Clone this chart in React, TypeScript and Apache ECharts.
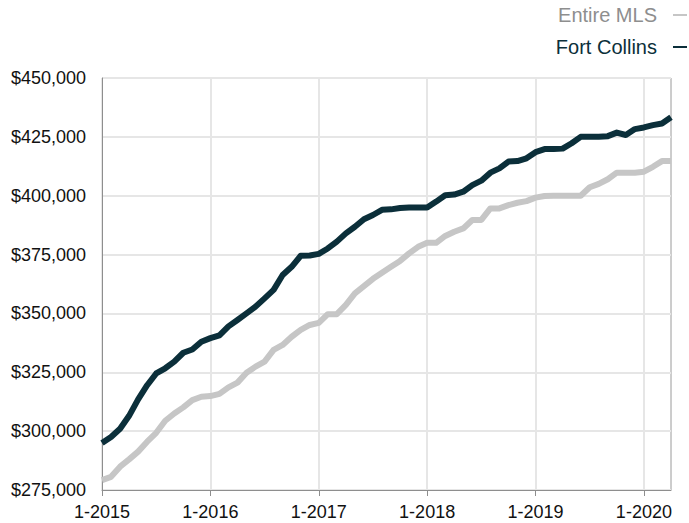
import React, { useEffect, useRef } from "react";
import * as echarts from "echarts";

const startYear = 2015;
const monthCount = 64;
const categories: string[] = Array.from({ length: monthCount }, (_, i) => `${(i % 12) + 1}-${startYear + Math.floor(i / 12)}`);

const seriesNames = ["Entire MLS", "Fort Collins"];

const entireMLS = [
  279200, 280600, 284900, 288000, 291300, 295500, 299300, 304400, 307500, 310100, 313200, 314600,
  314900, 315800, 318600, 320600, 324800, 327400, 329500, 334500, 336600, 340100, 343000, 345100,
  346000, 349700, 349700, 353600, 358500, 361600, 364700, 367300, 369800, 372300, 375500, 378300,
  380000, 380000, 382900, 384700, 386100, 389700, 389700, 394600, 394600, 396000, 397000, 397700,
  399200, 399900, 400000, 400000, 400000, 400000, 403600, 405000, 407000, 409800, 409800, 409800,
  410200, 412300, 414700, 414700,
];

const fortCollins = [
  295000, 297500, 301000, 306500, 313500, 319500, 324500, 326700, 329500, 333300, 334700, 338000,
  339500, 340700, 344500, 347200, 350000, 352900, 356400, 360000, 366300, 369800, 374500, 374600,
  375300, 377600, 380500, 384000, 386800, 390000, 391800, 394000, 394200, 394800, 395000, 395000,
  395000, 397500, 400200, 400500, 401700, 404500, 406400, 409800, 411600, 414500, 414700, 415900,
  418500, 419800, 419800, 420000, 422300, 425000, 425000, 425000, 425300, 426800, 425800, 428300,
  429000, 430000, 430700, 433300,
];

const yMin = 275000;
const yMax = 450000;
const yStep = 25000;

const FONT = "'Liberation Sans', Arial, Helvetica, sans-serif";
const DARK = "#0b2f3a";
const LIGHT = "#c6c6c6";

export default function App() {
  const ref = useRef<HTMLDivElement>(null);

  useEffect(() => {
    if (!ref.current) return;
    const chart = echarts.init(ref.current, undefined, { renderer: "svg" });
    chart.setOption({
      animation: false,
      backgroundColor: "#ffffff",
      textStyle: { fontFamily: FONT },
      legend: {
        orient: "vertical",
        right: 2,
        top: 4,
        padding: 0,
        align: "right",
        icon: "rect",
        itemWidth: 14,
        itemHeight: 2,
        itemGap: 10,
        textStyle: { fontSize: 20, fontFamily: FONT, lineHeight: 22, padding: [0, 11, 0, 0] },
        data: [
          { name: seriesNames[0], textStyle: { color: "#8e8e8e" } },
          { name: seriesNames[1], textStyle: { color: DARK } },
        ],
      },
      grid: {
        left: 102,
        right: 18,
        top: 78,
        bottom: 33,
        show: true,
        borderColor: "#9a9a9a",
        borderWidth: 1,
        containLabel: false,
      },
      xAxis: {
        type: "category",
        data: categories,
        boundaryGap: false,
        axisLine: { show: true, lineStyle: { color: "#8e8e8e", width: 1 } },
        axisTick: { show: true, interval: 11, length: 6, lineStyle: { color: "#8e8e8e" } },
        axisLabel: { interval: 11, color: "#111111", fontSize: 18, fontFamily: FONT, margin: 13 },
        splitLine: { show: true, interval: 11, lineStyle: { color: "#e6e6e6", width: 2 } },
      },
      yAxis: {
        type: "value",
        min: yMin,
        max: yMax,
        interval: yStep,
        axisLine: { show: true, lineStyle: { color: "#8e8e8e", width: 1 } },
        axisTick: { show: false },
        axisLabel: {
          color: "#111111",
          fontSize: 18,
          fontFamily: FONT,
          margin: 16,
          formatter: (v: number) => "$" + v.toLocaleString("en-US"),
        },
        splitLine: { show: true, lineStyle: { color: "#e6e6e6", width: 2 } },
      },
      series: [
        {
          name: seriesNames[0],
          type: "line",
          data: entireMLS,
          showSymbol: false,
          symbol: "none",
          color: LIGHT,
          lineStyle: { color: LIGHT, width: 6, join: "round", cap: "butt" },
          z: 2,
        },
        {
          name: seriesNames[1],
          type: "line",
          data: fortCollins,
          showSymbol: false,
          symbol: "none",
          color: DARK,
          lineStyle: { color: DARK, width: 6, join: "round", cap: "butt" },
          z: 3,
        },
      ],
    });
    return () => chart.dispose();
  }, []);

  return (
    <div
      ref={ref}
      style={{ position: "fixed", left: 0, top: 0, width: 689, height: 523, background: "#fff" }}
    />
  );
}
